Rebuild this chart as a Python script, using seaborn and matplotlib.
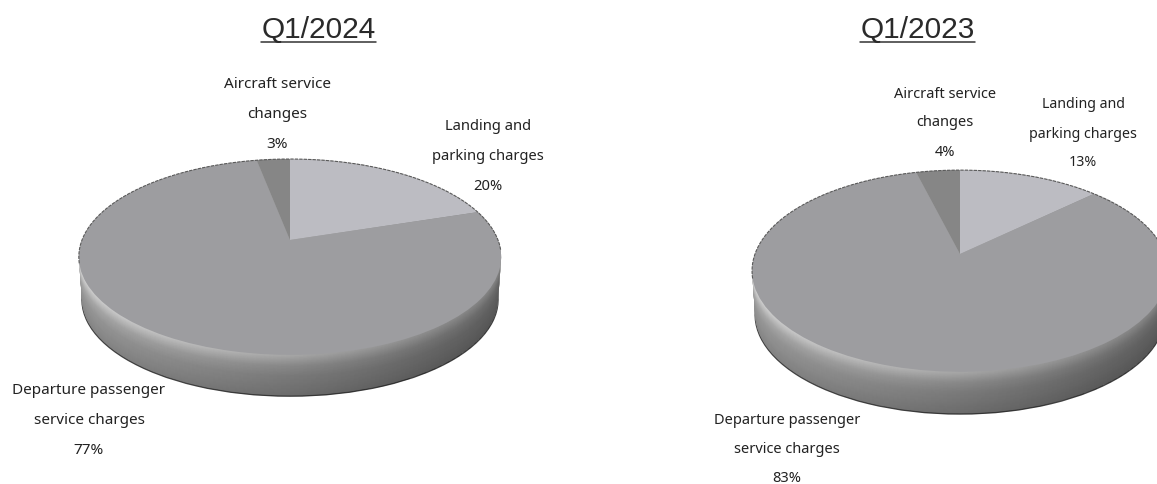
import numpy as np
import matplotlib
matplotlib.use("Agg")
import matplotlib.pyplot as plt
import seaborn as sns
from matplotlib.path import Path
from matplotlib.transforms import Transform

# Share of charges, in pie order (clockwise from 12 o'clock)
categories = ["Landing and\nparking charges", "Departure passenger\nservice charges", "Aircraft service\nchanges"]
values_2024 = [20, 77, 3]
values_2023 = [13, 83, 4]
titles = ["Q1/2024", "Q1/2023"]
slice_colors = ["#bcbcc2", "#9d9da0", "#868686"]

sns.set_theme(style="white")
plt.rcParams["font.family"] = ["Noto Sans", "DejaVu Sans"]


class PiePerspective(Transform):
    # tilts the unit pie, far edge shorter than the near one
    input_dims = 2
    output_dims = 2

    def __init__(self, cx, cy, a, b, c, drop=0, shrink=1.0):
        super().__init__()
        self.cx, self.cy, self.a, self.b, self.c = cx, cy, a, b, c
        self.drop, self.shrink = drop, shrink

    def transform_non_affine(self, values):
        x, y = values[:, 0], values[:, 1]
        w = 1 + self.c * y
        return np.column_stack([
            self.cx + self.shrink * self.b * x / w,
            self.cy + self.drop - self.shrink * self.a * y / w,
        ])


def unit_arc(t0, t1, n=360):
    t = np.linspace(t0, t1, n)
    return np.column_stack([np.cos(t), np.sin(t)])


def draw_pie(ax, values, cx, cy, a, b, c, thick):
    # side of the disc, stacked from the bottom up
    side = sns.blend_palette(["#cfcfcf", "#aaaaaa", "#989898", "#909090", "#868686"], thick)
    layers = [PiePerspective(cx, cy, a, b, c).transform(unit_arc(0, 2 * np.pi))]
    for d in range(thick, 0, -1):
        tr = PiePerspective(cx, cy, a, b, c, d, 1 - 0.015 * d / thick)
        edge = "#444444" if d == thick else "none"
        wedges, _ = ax.pie([1], colors=[side[d - 1]], radius=1,
                           wedgeprops={"edgecolor": edge, "linewidth": 1.0})
        wedges[0].set_transform(tr + ax.transData)
        layers.append(tr.transform(unit_arc(0, 2 * np.pi)))

    # darker towards the right of the side wall, kept inside the outline of the stack
    pts = np.vstack(layers)
    rows = np.round(pts[:, 1]).astype(int)
    ys = np.unique(rows)
    left = [pts[rows == y, 0].min() for y in ys]
    right = [pts[rows == y, 0].max() for y in ys]
    outline = np.vstack([np.column_stack([left, ys]), np.column_stack([right, ys])[::-1]])
    ramp = np.interp(np.linspace(0, 1, 256), [0, 0.5, 0.85, 1], [0, 0.2, 0.34, 0.38])
    rgba = np.zeros((1, 256, 4))
    rgba[0, :, 3] = ramp
    im = ax.imshow(rgba, extent=(cx - b - 10, cx + b + 10, cy + 200, cy - 120),
                   aspect="auto", zorder=1.5)
    im.set_clip_path(Path(np.vstack([outline, outline[:1]])), ax.transData)

    # top face
    wedges, _ = ax.pie(values, colors=slice_colors, startangle=90, counterclock=False,
                       radius=1, wedgeprops={"linewidth": 0})
    tr = PiePerspective(cx, cy, a, b, c)
    for w in wedges:
        w.set_transform(tr + ax.transData)
        w.set_zorder(2)
    rim = unit_arc(-0.1, np.pi + 0.25)
    ax.plot(rim[:, 0], rim[:, 1], color="#5a5a5a", lw=0.8, ls=(0, (3, 1)),
            transform=tr + ax.transData, zorder=2.1)


def draw_label(ax, x, y, label, pct, size, step=30):
    lines = label.split("\n") + [f"{pct}%"]
    for i, line in enumerate(lines):
        ax.text(x, y + i * step, line, ha="center", va="center", fontsize=size,
                color="#222222", fontweight="medium")


fig = plt.figure(figsize=(11.57, 4.84), dpi=100)
ax = fig.add_axes([0, 0, 1, 1])

draw_pie(ax, values_2024, 290, 240, 95, 208, 0.173, 43)
draw_pie(ax, values_2023, 960, 254, 98, 205, 0.168, 44)

ax.set_aspect("auto")
ax.set_xlim(0, 1157)
ax.set_ylim(484, 0)
ax.axis("off")

for title, x0, x1 in zip(titles, [261, 860], [376, 975]):
    ax.text((x0 + x1) / 2, 30, title, ha="center", va="center", fontsize=21.5,
            color="#2a2a2a", family=["Liberation Sans"])
    ax.plot([x0, x1], [42, 42], color="#333333", lw=1.1)

# label centres follow the picture
draw_label(ax, 89, 390, categories[1], values_2024[1], 11)
draw_label(ax, 277, 84, categories[2], values_2024[2], 11)
draw_label(ax, 488, 126, categories[0], values_2024[0], 10.6)
draw_label(ax, 787, 421, categories[1], values_2023[1], 10.5, step=28.5)
draw_label(ax, 945, 94, categories[2], values_2023[2], 10.5, step=29)
draw_label(ax, 1083, 105, categories[0], values_2023[0], 10.2, step=29)

fig.savefig("out.png", dpi=100)
